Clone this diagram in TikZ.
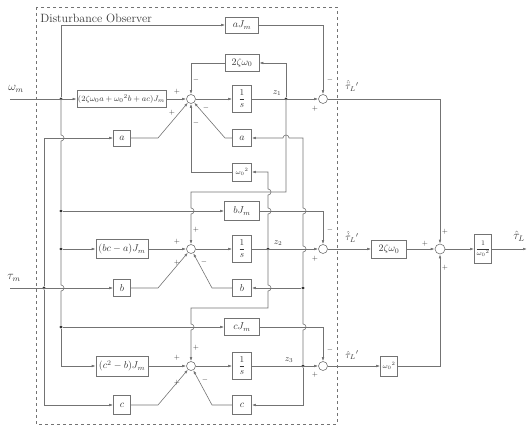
\documentclass[tikz,border=0pt]{standalone}
\usepackage{amsmath,amssymb}
\usepackage{tikz}
\usetikzlibrary{arrows.meta, calc}
\definecolor{linegray}{RGB}{115,115,115}
\definecolor{textgray}{RGB}{55,55,55}

\begin{document}
\begin{tikzpicture}[x=1pt, y=-1pt, line width=0.6pt,
  blk/.style={draw=linegray, fill=white, inner sep=1pt, text=textgray},
  sumnode/.style={draw=linegray, fill=white, circle, minimum size=9pt, inner sep=0pt},
  jdot/.style={circle, fill=black!80, inner sep=0pt, minimum size=3.2pt},
  sig/.style={draw=linegray, -{Latex[length=4pt, width=2.6pt]}},
  wire/.style={draw=linegray},
  sgn/.style={font=\scriptsize, text=textgray, inner sep=0pt},
  lbl/.style={text=textgray, inner sep=0pt}]
  \useasboundingbox (0,0) rectangle (529,428);
  \draw[linegray, dashed, line width=0.5pt] (36,7) rectangle (337,424);
  \node[lbl, anchor=west, font=\large] (title) at (40,18) {Disturbance Observer};

  % inputs and branch points
  \coordinate (win) at (10,99);
  \coordinate (tin) at (10,288);
  \node[lbl, font=\large] (wlab) at (16,89) {$\omega_m$};
  \node[lbl, font=\large] (tlab) at (14,278) {$\tau_m$};
  \node[jdot] (jw) at (61,99) {};
  \node[jdot] (jwb) at (61,211) {};
  \node[jdot] (jw2) at (61,249) {};
  \node[jdot] (jwc) at (61,327) {};
  \node[jdot] (jt) at (44,288) {};

  % first state
  \node[blk, minimum width=33pt, minimum height=16pt] (aJ) at (242,25) {$aJ_m$};
  \node[blk, minimum width=34pt, minimum height=17pt] (zw1) at (242,63) {$2\zeta\omega_0$};
  \node[blk, font=\footnotesize, minimum width=87pt, minimum height=17pt] (k1) at (121.5,99) {$(2\zeta\omega_0 a+\omega_0{}^2b+ac)J_m$};
  \node[sumnode] (s1) at (191,99) {};
  \node[blk, font=\small, minimum width=19pt, minimum height=27pt] (int1) at (242,99) {$\dfrac{1}{s}$};
  \node[jdot] (z1) at (286,99) {};
  \node[sumnode] (o1) at (323,99) {};
  \node[blk, minimum width=17pt, minimum height=16pt] (a1) at (122,138) {$a$};
  \node[blk, minimum width=19pt, minimum height=17pt] (af) at (242,138) {$a$};
  \node[blk, font=\scriptsize, minimum width=19pt, minimum height=18pt] (wf) at (242,172) {$\omega_0{}^2$};

  % second state
  \node[blk, minimum width=35pt, minimum height=19pt] (bJ) at (242,211) {$bJ_m$};
  \node[blk, minimum width=52pt, minimum height=19pt] (k2) at (122,249) {$(bc-a)J_m$};
  \node[sumnode] (s2) at (191,249) {};
  \node[blk, font=\small, minimum width=19pt, minimum height=27pt] (int2) at (242,249) {$\dfrac{1}{s}$};
  \node[jdot] (z2) at (268,249) {};
  \node[sumnode] (o2) at (323,249) {};
  \node[blk, minimum width=17pt, minimum height=17pt] (b1) at (122,288) {$b$};
  \node[blk, minimum width=19pt, minimum height=17pt] (bf) at (242,288) {$b$};
  \node[jdot] (jzb) at (303,288) {};

  % third state
  \node[blk, minimum width=35pt, minimum height=17pt] (cJ) at (242,327) {$cJ_m$};
  \node[blk, minimum width=52pt, minimum height=20pt] (k3) at (122,366) {$(c^2-b)J_m$};
  \node[sumnode] (s3) at (191,366) {};
  \node[blk, font=\small, minimum width=19pt, minimum height=27pt] (int3) at (242,366) {$\dfrac{1}{s}$};
  \node[jdot] (z3) at (303,366) {};
  \node[sumnode] (o3) at (323,366) {};
  \node[blk, minimum width=17pt, minimum height=19pt] (c1) at (122,405) {$c$};
  \node[blk, minimum width=19pt, minimum height=19pt] (cf) at (242,405) {$c$};

  % output side
  \node[blk, minimum width=35pt, minimum height=18pt] (g2) at (389,249) {$2\zeta\omega_0$};
  \node[blk, font=\scriptsize, minimum width=17pt, minimum height=20pt] (g3) at (389,366) {$\omega_0{}^2$};
  \node[sumnode, minimum size=10pt] (sf) at (440,249) {};
  \node[blk, font=\scriptsize, minimum width=17pt, minimum height=29pt] (gf) at (483,249) {$\dfrac{1}{\omega_0{}^2}$};
  \coordinate (out) at (527,249);

  % omega_m paths
  \draw[sig] (win) -- (k1);
  \draw[sig] (jw) |- (aJ);
  \draw[sig] (aJ) -| (o1);
  \draw[wire] (jw) -- (61,135) arc(-90:90:3) -- (jwb) -- (jw2) -- (61,285) arc(-90:90:3) -- (jwc);
  \draw[sig] (jwc) |- (k3);
  \draw[sig] (jwb) -- (bJ);
  \draw[sig] (bJ) -| (o2);
  \draw[sig] (jw2) -- (k2);
  \draw[sig] (jwc) -- (cJ);
  \draw[sig] (cJ) -| (o3);

  % tau_m paths
  \draw[sig] (tin) -- (b1);
  \draw[sig] (jt) |- (a1);
  \draw[sig] (jt) |- (c1);

  % into the sums
  \draw[sig] (k1) -- (s1);
  \draw[sig] (a1) -- (158,138) -- (s1);
  \draw[sig] (k2) -- (s2);
  \draw[sig] (b1) -- (158,288) -- (s2);
  \draw[sig] (k3) -- (s3);
  \draw[sig] (c1) -- (158,405) -- (s3);

  % integrators
  \draw[sig] (s1) -- (int1);
  \draw[sig] (int1) -- (o1);
  \draw[sig] (s2) -- (int2);
  \draw[sig] (int2) -- (o2);
  \draw[sig] (s3) -- (int3);
  \draw[sig] (int3) -- (o3);

  % feedback from z1
  \draw[sig] (z1) |- (zw1);
  \draw[sig] (zw1) -| (s1);
  \draw[sig] (z1) -- (286,192) -- (191,192) -- (191,208) arc(-90:90:3) -- (s2);

  % feedback from z2
  \draw[sig] (z2) -- (268,214) arc(90:-90:3) -- (268,195) arc(90:-90:3) -- (268,172) -- (wf);
  \draw[sig] (wf) -| (s1);
  \draw[sig] (z2) -- (268,285) arc(-90:90:3) -- (268,308) -- (191,308) -- (191,324) arc(-90:90:3) -- (s3);

  % feedback from z3
  \draw[sig] (z3) -- (303,330) arc(90:-90:3) -- (jzb) -- (303,252) arc(90:-90:3) -- (303,214) arc(90:-90:3) -- (303,138) -- (289,138) arc(0:-180:3) -- (af);
  \draw[sig] (jzb) -- (bf);
  \draw[sig] (z3) |- (cf);
  \draw[sig] (af) -- (225,138) -- (s1);
  \draw[sig] (bf) -- (212,288) -- (s2);
  \draw[sig] (cf) -- (212,405) -- (s3);

  % combining the estimates
  \draw[sig] (o1) -| (sf);
  \draw[sig] (o2) -- (g2);
  \draw[sig] (g2) -- (sf);
  \draw[sig] (o3) -- (g3);
  \draw[sig] (g3) -| (sf);
  \draw[sig] (sf) -- (gf);
  \draw[sig] (gf) -- (out);

  % state and output labels
  \node[lbl, font=\small] (z1lab) at (277,93) {$z_1$};
  \node[lbl, font=\small] (z2lab) at (278,243) {$z_2$};
  \node[lbl, font=\small] (z3lab) at (289,360) {$z_3$};
  \node[lbl] (y1lab) at (352,86) {$\hat{\ddot{\tau}}_L{}'$};
  \node[lbl] (y2lab) at (352,237) {$\hat{\dot{\tau}}_L{}'$};
  \node[lbl] (y3lab) at (352,355) {$\hat{\tau}_L{}'$};
  \node[lbl, font=\large] (ylab) at (519,236) {$\hat{\tau}_L$};

  % signs
  \node[sgn] at (177,92) {$+$};
  \node[sgn] at (172,113) {$+$};
  \node[sgn] at (196,80) {$-$};
  \node[sgn] at (206,108) {$-$};
  \node[sgn] at (196,123) {$-$};
  \node[sgn] at (330,80) {$-$};
  \node[sgn] at (315,109) {$+$};
  \node[sgn] at (177,242) {$+$};
  \node[sgn] at (177,263) {$+$};
  \node[sgn] at (196,230) {$+$};
  \node[sgn] at (204,262) {$-$};
  \node[sgn] at (330,230) {$-$};
  \node[sgn] at (315,259) {$+$};
  \node[sgn] at (177,358) {$+$};
  \node[sgn] at (177,383) {$+$};
  \node[sgn] at (196,348) {$+$};
  \node[sgn] at (205,380) {$-$};
  \node[sgn] at (330,350) {$-$};
  \node[sgn] at (315,375) {$+$};
  \node[sgn] at (425,244) {$+$};
  \node[sgn] at (445,232) {$+$};
  \node[sgn] at (445,268) {$+$};
\end{tikzpicture}
\end{document}
